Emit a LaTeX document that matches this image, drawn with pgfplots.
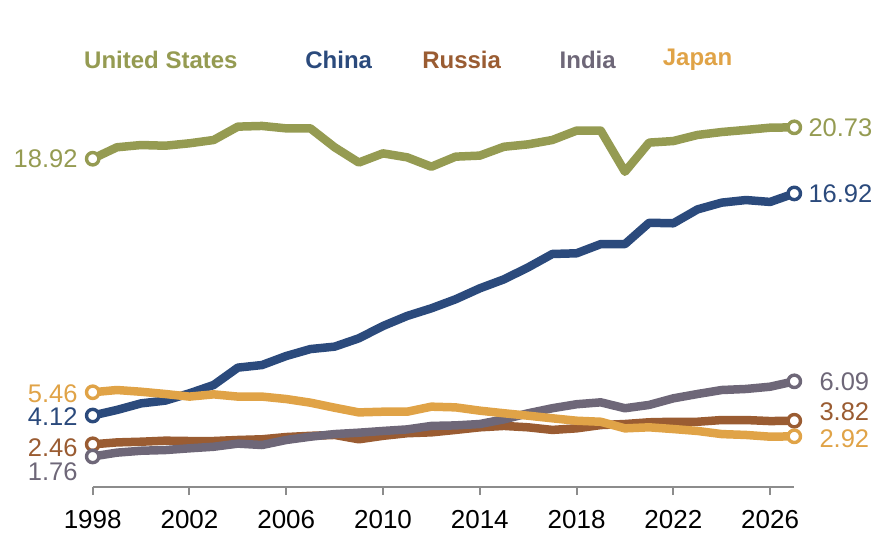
\documentclass[border=0pt]{standalone}
\usepackage{fontspec}
\setmainfont{Liberation Sans}
\usepackage{pgfplots}
\pgfplotsset{compat=1.18}

\definecolor{usa}{RGB}{149,155,82}
\definecolor{chn}{RGB}{43,74,124}
\definecolor{rus}{RGB}{154,92,50}
\definecolor{ind}{RGB}{110,103,120}
\definecolor{jpn}{RGB}{224,163,71}
\definecolor{axisgray}{RGB}{140,140,140}

\newcommand{\lbl}{\fontsize{25.5bp}{28bp}\selectfont}
\newcommand{\leg}{\fontsize{24bp}{26bp}\selectfont\bfseries}

\pgfplotsset{
  series/.style={#1, line width=8.5bp, line join=round,
     mark=*, mark indices={1,30}, mark size=6.2bp,
     mark options={#1, fill=white, line width=3.4bp}},
}

\begin{document}
\begin{tikzpicture}
\useasboundingbox (-92.7bp,-67bp) rectangle (789.3bp,487bp);
\begin{axis}[
  scale only axis,
  width=701.6bp, height=381.7bp,
  xmin=1998, xmax=2027, ymin=0, ymax=22,
  clip=false,
  axis x line*=bottom,
  axis y line=none,
  x axis line style={axisgray, line width=2.2bp},
  xtick={1998,2002,...,2026},
  tick style={axisgray, line width=2bp},
  xtick align=outside,
  major tick length=8bp,
  /pgf/number format/assume math mode=true,
  /pgf/number format/1000 sep={},
  xticklabel style={font=\fontsize{26bp}{28bp}\selectfont, text=black, yshift=-12bp},
]
% United States
\addplot[series=usa] coordinates {
 (1998,18.92) (1999,19.58) (2000,19.71) (2001,19.67) (2002,19.81) (2003,20.00)
 (2004,20.77) (2005,20.81) (2006,20.67) (2007,20.67) (2008,19.58) (2009,18.70)
 (2010,19.23) (2011,19.00) (2012,18.46) (2013,19.04) (2014,19.10) (2015,19.61)
 (2016,19.75) (2017,20.00) (2018,20.54) (2019,20.54) (2020,18.17) (2021,19.85)
 (2022,19.94) (2023,20.29) (2024,20.46) (2025,20.58) (2026,20.71) (2027,20.73)};
% China
\addplot[series=chn] coordinates {
 (1998,4.12) (1999,4.44) (2000,4.82) (2001,4.98) (2002,5.40) (2003,5.88)
 (2004,6.88) (2005,7.03) (2006,7.55) (2007,7.95) (2008,8.09) (2009,8.57)
 (2010,9.28) (2011,9.86) (2012,10.30) (2013,10.82) (2014,11.45) (2015,11.97)
 (2016,12.66) (2017,13.43) (2018,13.47) (2019,14.00) (2020,14.00) (2021,15.23)
 (2022,15.20) (2023,16.00) (2024,16.39) (2025,16.54) (2026,16.43) (2027,16.92)};
% Russia
\addplot[series=rus] coordinates {
 (1998,2.46) (1999,2.57) (2000,2.61) (2001,2.67) (2002,2.65) (2003,2.65)
 (2004,2.71) (2005,2.75) (2006,2.88) (2007,2.95) (2008,3.00) (2009,2.75)
 (2010,2.95) (2011,3.10) (2012,3.15) (2013,3.29) (2014,3.44) (2015,3.52)
 (2016,3.44) (2017,3.29) (2018,3.38) (2019,3.57) (2020,3.63) (2021,3.73)
 (2022,3.76) (2023,3.76) (2024,3.86) (2025,3.86) (2026,3.80) (2027,3.82)};
% India
\addplot[series=ind] coordinates {
 (1998,1.76) (1999,1.98) (2000,2.09) (2001,2.13) (2002,2.23) (2003,2.32)
 (2004,2.50) (2005,2.42) (2006,2.71) (2007,2.90) (2008,3.05) (2009,3.13)
 (2010,3.23) (2011,3.32) (2012,3.52) (2013,3.55) (2014,3.63) (2015,3.90)
 (2016,4.25) (2017,4.54) (2018,4.77) (2019,4.88) (2020,4.54) (2021,4.73)
 (2022,5.11) (2023,5.36) (2024,5.59) (2025,5.65) (2026,5.78) (2027,6.09)};
% Japan
\addplot[series=jpn] coordinates {
 (1998,5.46) (1999,5.59) (2000,5.49) (2001,5.36) (2002,5.21) (2003,5.34)
 (2004,5.21) (2005,5.21) (2006,5.07) (2007,4.86) (2008,4.57) (2009,4.30)
 (2010,4.34) (2011,4.34) (2012,4.63) (2013,4.59) (2014,4.40) (2015,4.25)
 (2016,4.11) (2017,3.96) (2018,3.82) (2019,3.76) (2020,3.38) (2021,3.44)
 (2022,3.34) (2023,3.23) (2024,3.05) (2025,3.00) (2026,2.90) (2027,2.92)};

% start values
\node[anchor=east, inner sep=0, text=usa, xshift=-15bp] at (axis cs:1998,18.92) {\lbl 18.92};
\node[anchor=east, inner sep=0, text=jpn, xshift=-15bp, yshift=-1bp] at (axis cs:1998,5.46) {\lbl 5.46};
\node[anchor=east, inner sep=0, text=chn, xshift=-15bp, yshift=-1bp] at (axis cs:1998,4.12) {\lbl 4.12};
\node[anchor=east, inner sep=0, text=rus, xshift=-15bp, yshift=-3bp] at (axis cs:1998,2.46) {\lbl 2.46};
\node[anchor=east, inner sep=0, text=ind, xshift=-15bp, yshift=-15bp] at (axis cs:1998,1.76) {\lbl 1.76};
% end values
\node[anchor=west, inner sep=0, text=usa, xshift=14bp] at (axis cs:2027,20.73) {\lbl 20.73};
\node[anchor=west, inner sep=0, text=chn, xshift=14bp] at (axis cs:2027,16.92) {\lbl 16.92};
\node[anchor=west, inner sep=0, text=ind, xshift=25bp] at (axis cs:2027,6.09) {\lbl 6.09};
\node[anchor=west, inner sep=0, text=rus, xshift=25bp, yshift=9bp] at (axis cs:2027,3.82) {\lbl 3.82};
\node[anchor=west, inner sep=0, text=jpn, xshift=25bp, yshift=-2bp] at (axis cs:2027,2.92) {\lbl 2.92};

% series names
\node[text=usa] at (axis cs:2000.82,24.6) {\leg United States};
\node[text=chn] at (axis cs:2008.17,24.6) {\leg China};
\node[text=rus] at (axis cs:2013.25,24.6) {\leg Russia};
\node[text=ind] at (axis cs:2018.46,24.6) {\leg India};
\node[text=jpn] at (axis cs:2023.00,24.6) {\leg Japan};
\end{axis}
\end{tikzpicture}
\end{document}
